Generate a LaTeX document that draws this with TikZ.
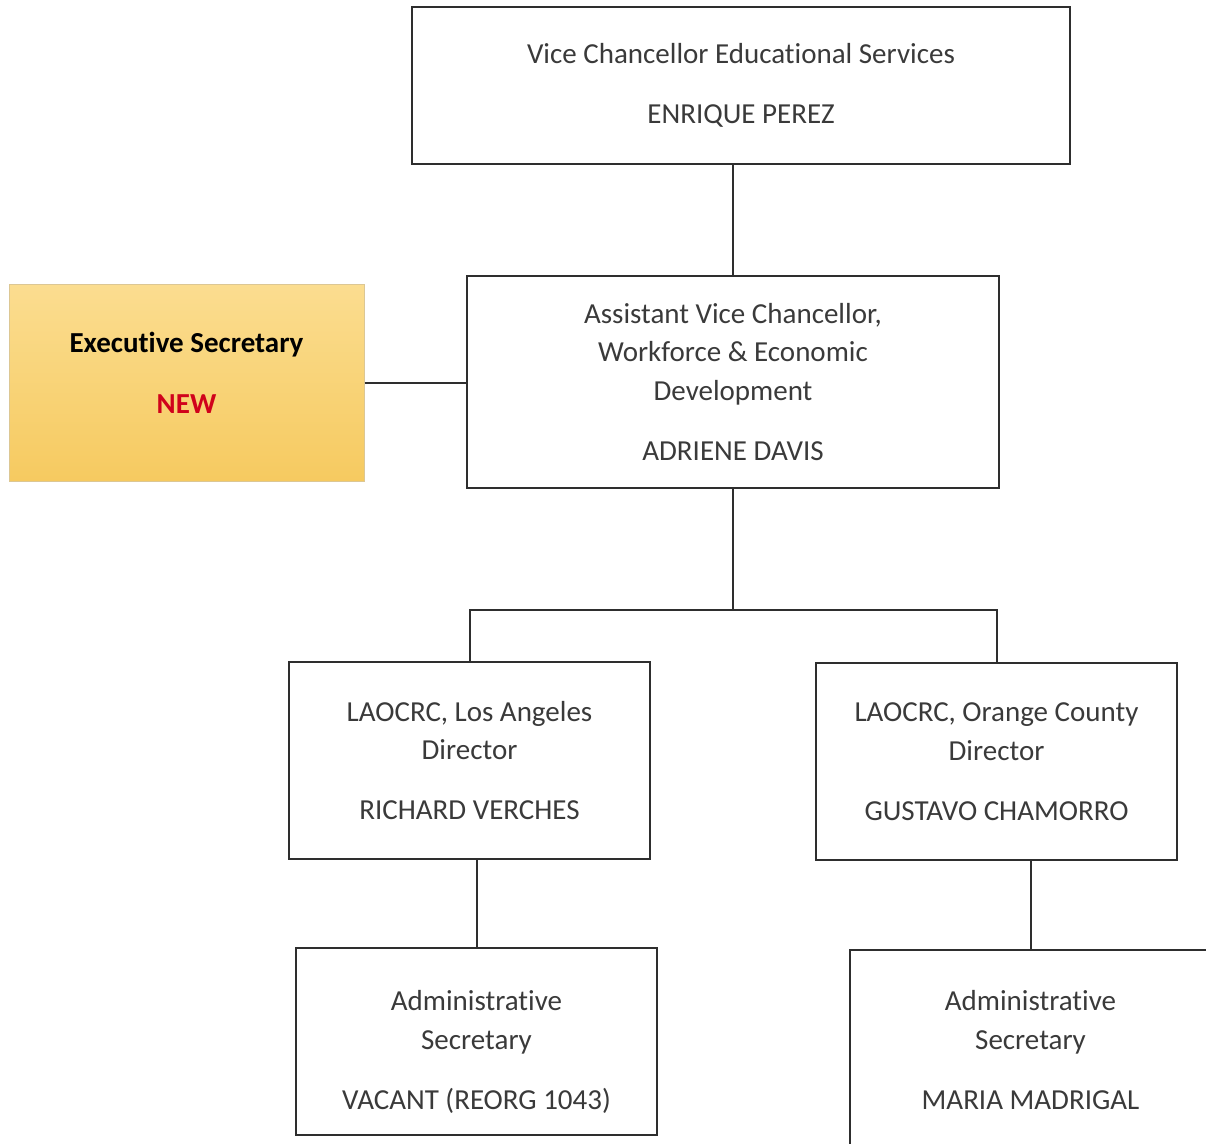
\documentclass[tikz,border=0pt]{standalone}
\usepackage{fontspec}
\setmainfont{Carlito}[Ligatures=NoCommon]
\definecolor{linegray}{HTML}{2E2E2E}
\definecolor{textgray}{HTML}{3A3A3A}
\definecolor{newred}{HTML}{D0021B}
\definecolor{goldtop}{HTML}{FBDD90}
\definecolor{goldbot}{HTML}{F6CA60}
\tikzset{
  orgbox/.style={draw=linegray, line width=2.5pt, align=center, text=textgray,
    font=\fontsize{29}{38.5}\selectfont, inner sep=0pt},
  link/.style={draw=linegray, line width=2pt}
}
\begin{document}
\begin{tikzpicture}[x=1pt,y=-1pt]
  \useasboundingbox (0,0) rectangle (1206,1143);
  \clip (0,0) rectangle (1206,1143);

  %draw boxes
  \node[orgbox, minimum width=658pt, minimum height=157pt] (vc) at (741,85.5)
    {Vice Chancellor Educational Services\\[21.5pt]ENRIQUE PEREZ};
  \node[orgbox, minimum width=532pt, minimum height=212pt] (avc) at (733,382)
    {Assistant Vice Chancellor,\\Workforce \& Economic\\Development\\[21.5pt]ADRIENE DAVIS};
  \node[orgbox, draw=goldbot!80!black!60, line width=1pt, text=black,
    top color=goldtop, bottom color=goldbot, text depth=20pt,
    minimum width=355pt, minimum height=197pt] (exec) at (186.5,382.5)
    {\textbf{Executive Secretary}\\[22.5pt]\textcolor{newred}{\textbf{NEW}}};
  \node[orgbox, minimum width=361pt, minimum height=197pt] (la) at (469.5,760.5)
    {LAOCRC, Los Angeles\\Director\\[21.5pt]RICHARD VERCHES};
  \node[orgbox, minimum width=361pt, minimum height=197pt] (oc) at (996.5,761.5)
    {LAOCRC, Orange County\\Director\\[21.5pt]GUSTAVO CHAMORRO};
  \node[orgbox, minimum width=361pt, minimum height=187pt, text height=139pt] (adl) at (476.5,1041.5)
    {Administrative\\Secretary\\[21.5pt]VACANT (REORG 1043)};
  \node[orgbox, minimum width=361pt, minimum height=200pt] (adr) at (1030.5,1050)
    {Administrative\\Secretary\\[21.5pt]MARIA MADRIGAL};

  %draw lines
  \coordinate (bus) at (729,610);
  \draw[link] (avc.north |- vc.south) -- (avc.north);
  \draw[link] (exec.east) -- (exec.east -| avc.west);
  \draw[link] (avc.south) -- (avc.south |- bus);
  \draw[link] (la.north) |- (bus) -| (oc.north);
  \draw[link] (adl.north |- la.south) -- (adl.north);
  \draw[link] (adr.north |- oc.south) -- (adr.north);
\end{tikzpicture}
\end{document}
